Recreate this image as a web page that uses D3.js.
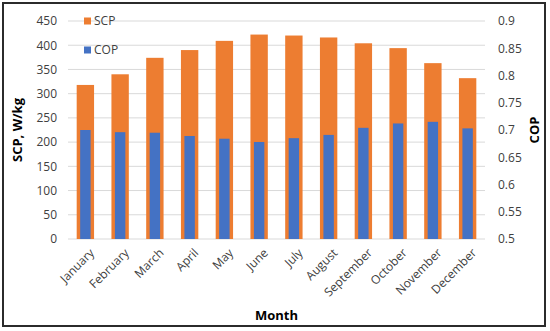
<!DOCTYPE html>
<html>
<head>
<meta charset="utf-8">
<script src="https://d3js.org/d3.v7.min.js"></script>
<style>
  body { margin: 0; background: #fff; }
  text { font-family: "Open Sans", "Noto Sans", sans-serif; fill: #404040; }
</style>
</head>
<body>
<svg id="chart" width="550" height="331"></svg>
<script>
  var months = ["January", "February", "March", "April", "May", "June",
                "July", "August", "September", "October", "November", "December"];
  var scpValues = [318, 340, 374, 390, 409, 422, 420, 416, 404, 394, 363, 332];
  var copValues = [0.700, 0.696, 0.695, 0.689, 0.684, 0.678, 0.685, 0.691, 0.704, 0.712, 0.715, 0.703];
  var scpTicks = [0, 50, 100, 150, 200, 250, 300, 350, 400, 450];
  var copTicks = [0.5, 0.55, 0.6, 0.65, 0.7, 0.75, 0.8, 0.85, 0.9];

  var svg = d3.select("#chart");
  var plotL = 68, plotR = 485, plotT = 21, plotB = 239;

  // chart frame
  svg.append("rect")
      .attr("x", 3).attr("y", 3)
      .attr("width", 542).attr("height", 323)
      .attr("fill", "#fff")
      .attr("stroke", "#2b2b2b")
      .attr("stroke-width", 2);

  var x = d3.scaleBand().domain(months).range([plotL, plotR]).paddingInner(0.5).paddingOuter(0.25);
  var xBlue = d3.scaleBand().domain(months).range([plotL, plotR]).paddingInner(0.7).paddingOuter(0.35);
  var yL = d3.scaleLinear().domain([0, 450]).range([plotB, plotT]);
  var yR = d3.scaleLinear().domain([0.5, 0.9]).range([plotB, plotT]);

  // gridlines
  svg.append("g").selectAll("line")
      .data(scpTicks)
      .enter().append("line")
      .attr("x1", plotL).attr("x2", plotR)
      .attr("y1", d => yL(d)).attr("y2", d => yL(d))
      .attr("stroke", "#d9d9d9").attr("stroke-width", 1);

  // left axis
  var axL = svg.append("g")
      .attr("transform", "translate(" + plotL + ",0)")
      .call(d3.axisLeft(yL).tickValues(scpTicks).tickSize(0).tickPadding(11));
  axL.select(".domain").remove();
  axL.selectAll("text").style("font-size", "12px").attr("fill", "#404040");

  // right axis
  var axR = svg.append("g")
      .attr("transform", "translate(" + plotR + ",0)")
      .call(d3.axisRight(yR).tickValues(copTicks).tickSize(0).tickPadding(13)
            .tickFormat(d => String(+d.toFixed(2))));
  axR.select(".domain").remove();
  axR.selectAll("text").style("font-size", "12px").attr("fill", "#404040");

  // SCP bars
  svg.append("g").selectAll("rect")
      .data(scpValues)
      .enter().append("rect")
      .attr("x", (d, i) => x(months[i]))
      .attr("width", x.bandwidth())
      .attr("y", d => yL(d))
      .attr("height", d => yL(0) - yL(d))
      .attr("fill", "#ED7D31");

  // COP bars
  svg.append("g").selectAll("rect")
      .data(copValues)
      .enter().append("rect")
      .attr("x", (d, i) => xBlue(months[i]))
      .attr("width", xBlue.bandwidth())
      .attr("y", d => yR(d))
      .attr("height", d => yR(0.5) - yR(d))
      .attr("fill", "#4472C4");

  // x axis labels
  var axB = svg.append("g")
      .attr("transform", "translate(0," + plotB + ")")
      .call(d3.axisBottom(x).tickSize(0).tickPadding(8));
  axB.select(".domain").remove();
  axB.selectAll("text")
      .style("font-size", "12px")
      .attr("fill", "#404040")
      .attr("text-anchor", "end")
      .attr("dy", "0.35em")
      .attr("transform", "translate(1,6) rotate(-45)");

  // legend
  var legend = [{ name: "SCP", color: "#ED7D31", y: 21 }, { name: "COP", color: "#4472C4", y: 50 }];
  var lg = svg.append("g").selectAll("g").data(legend).enter().append("g");
  lg.append("rect")
      .attr("x", 84).attr("y", d => d.y - 3.5)
      .attr("width", 7).attr("height", 7)
      .attr("fill", d => d.color);
  lg.append("text")
      .attr("x", 94).attr("y", d => d.y)
      .attr("dy", "0.35em")
      .style("font-size", "12px")
      .text(d => d.name);

  // axis titles
  svg.append("text")
      .attr("transform", "translate(22," + ((plotT + plotB) / 2) + ") rotate(-90)")
      .attr("text-anchor", "middle")
      .style("font-size", "13px").style("font-weight", "bold")
      .style("fill", "#000")
      .text("SCP, W/kg");

  svg.append("text")
      .attr("transform", "translate(539," + ((plotT + plotB) / 2) + ") rotate(-90)")
      .attr("text-anchor", "middle")
      .style("font-size", "13px").style("font-weight", "bold")
      .style("fill", "#000")
      .text("COP");

  svg.append("text")
      .attr("x", (plotL + plotR) / 2).attr("y", 320)
      .attr("text-anchor", "middle")
      .style("font-size", "13px").style("font-weight", "bold")
      .style("fill", "#000")
      .text("Month");
</script>
</body>
</html>
